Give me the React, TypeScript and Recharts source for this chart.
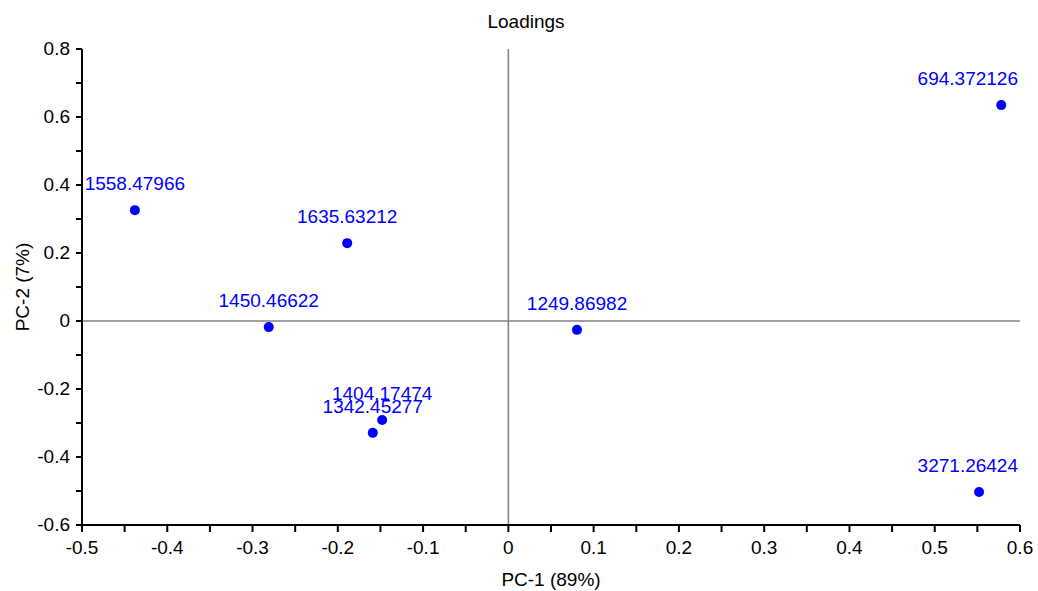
import React from 'react';
import { ScatterChart, Scatter, XAxis, YAxis, ReferenceLine, Label } from 'recharts';

const loadingNames = ['694.372126', '1558.47966', '1635.63212', '1450.46622', '1249.86982', '1404.17474', '1342.45277', '3271.26424'];
const pc1Values = [0.578, -0.438, -0.189, -0.281, 0.0805, -0.148, -0.159, 0.552];
const pc2Values = [0.635, 0.326, 0.229, -0.018, -0.026, -0.291, -0.329, -0.503];

const xTicks = [-0.5, -0.45, -0.4, -0.35, -0.3, -0.25, -0.2, -0.15, -0.1, -0.05, 0, 0.05, 0.1, 0.15, 0.2, 0.25, 0.3, 0.35, 0.4, 0.45, 0.5, 0.55, 0.6];
const yTicks = [-0.6, -0.5, -0.4, -0.3, -0.2, -0.1, 0, 0.1, 0.2, 0.3, 0.4, 0.5, 0.6, 0.7, 0.8];

const points = loadingNames.map((name, i) => ({ name, x: pc1Values[i], y: pc2Values[i] }));

const FONT = '"Liberation Sans", Arial, sans-serif';
const FS = 19;
const PLOT_RIGHT = 1018;

const isMajor = (v: number, step: number) => {
  const r = v / step;
  return Math.abs(r - Math.round(r)) < 1e-6;
};

const XTick = (props: any) => {
  const { x, y, payload } = props;
  if (!isMajor(payload.value, 0.1)) return <g />;
  return (
    <text x={x} y={y} dy={18} textAnchor="middle" fontSize={FS} fontFamily={FONT} fill="#000">
      {String(Number(payload.value.toFixed(2)))}
    </text>
  );
};

const YTick = (props: any) => {
  const { x, y, payload } = props;
  if (!isMajor(payload.value, 0.2)) return <g />;
  return (
    <text x={x} y={y} dy={6} textAnchor="end" fontSize={FS} fontFamily={FONT} fill="#000">
      {String(Number(payload.value.toFixed(2)))}
    </text>
  );
};

const PointShape = (props: any) => {
  const { cx, cy, payload } = props;
  const label: string = payload.name;
  const estWidth = label.length * 10.3;
  const clamp = cx + estWidth / 2 > PLOT_RIGHT;
  return (
    <g>
      <circle cx={cx} cy={cy} r={5} fill="#0000ff" />
      <text
        x={clamp ? PLOT_RIGHT : cx}
        y={cy - 20}
        textAnchor={clamp ? 'end' : 'middle'}
        fontSize={FS}
        fontFamily={FONT}
        fill="#0000ff"
      >
        {label}
      </text>
    </g>
  );
};

export default function App() {
  return (
    <div style={{ position: 'absolute', left: 0, top: 0, width: 1038, height: 591, background: '#fff' }}>
      <div
        style={{
          position: 'absolute',
          left: 0,
          top: 12,
          width: 1052,
          textAlign: 'center',
          fontFamily: FONT,
          fontSize: FS,
          lineHeight: 1,
          color: '#000',
        }}
      >
        Loadings
      </div>
      <ScatterChart width={1038} height={591} margin={{ top: 49, right: 18, bottom: 0, left: 0 }}>
        <XAxis
          type="number"
          dataKey="x"
          domain={[-0.5, 0.6]}
          ticks={xTicks}
          interval={0}
          allowDataOverflow
          height={66}
          tick={<XTick />}
          tickSize={7}
          tickMargin={4}
          axisLine={{ stroke: '#000', strokeWidth: 2 }}
          tickLine={{ stroke: '#000', strokeWidth: 2 }}
        >
          <Label value="PC-1 (89%)" position="insideBottom" offset={5} fontSize={FS} fontFamily={FONT} fill="#000" />
        </XAxis>
        <YAxis
          type="number"
          dataKey="y"
          domain={[-0.6, 0.8]}
          ticks={yTicks}
          interval={0}
          allowDataOverflow
          width={82}
          tick={<YTick />}
          tickSize={6}
          tickMargin={6}
          axisLine={{ stroke: '#000', strokeWidth: 2 }}
          tickLine={{ stroke: '#000', strokeWidth: 2 }}
        >
          <Label
            value="PC-2 (7%)"
            angle={-90}
            position="insideLeft"
            offset={22}
            fontSize={FS}
            fontFamily={FONT}
            fill="#000"
            style={{ textAnchor: 'middle' }}
          />
        </YAxis>
        <ReferenceLine x={0} stroke="#808080" strokeWidth={1.5} />
        <ReferenceLine y={0} stroke="#808080" strokeWidth={1.5} />
        <Scatter data={points} shape={<PointShape />} isAnimationActive={false} />
      </ScatterChart>
    </div>
  );
}
